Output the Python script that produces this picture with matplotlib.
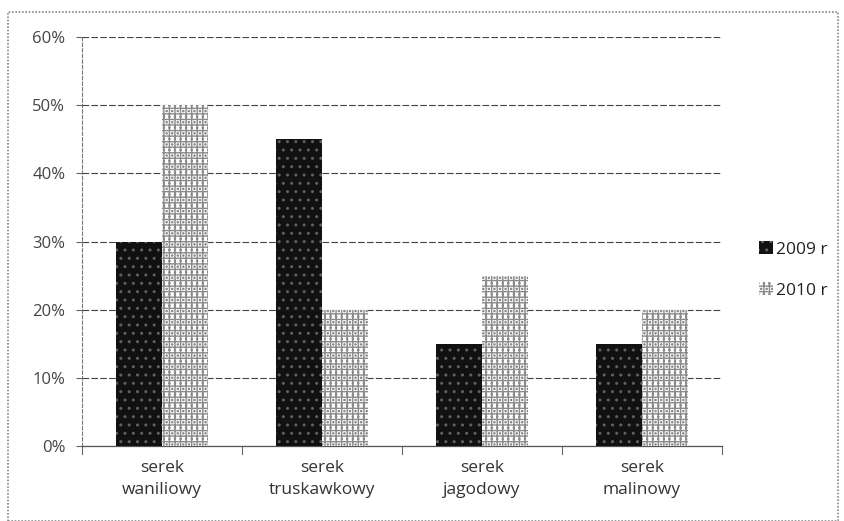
import matplotlib
matplotlib.use("Agg")
import matplotlib.pyplot as plt
from matplotlib.patches import Rectangle, Patch
import numpy as np

categories = ["serek\nwaniliowy", "serek\ntruskawkowy", "serek\njagodowy", "serek\nmalinowy"]
series_names = ["2009 r", "2010 r"]
values_2009 = [30, 45, 15, 15]
values_2010 = [50, 20, 25, 20]
yticks = [0, 10, 20, 30, 40, 50, 60]
ytick_labels = ["0%", "10%", "20%", "30%", "40%", "50%", "60%"]

plt.rcParams['font.family'] = ['Open Sans', 'DejaVu Sans']
plt.rcParams['hatch.linewidth'] = 1.0

fig = plt.figure(figsize=(8.45, 5.21), dpi=100)
ax = fig.add_axes([82/845, 1-446/521, (722-82)/845, (446-37)/521])

x = np.arange(len(categories))
w = 0.29
b1 = ax.bar(x - w/2, values_2009, width=w, color='#111111', edgecolor='#606060',
            hatch='..', linewidth=0, zorder=3)
b2 = ax.bar(x + w/2, values_2010, width=w, color='white', edgecolor='#8a8a8a',
            hatch='+++...', linewidth=0, zorder=3)

ax.set_xlim(-0.5, len(categories) - 0.5)
ax.set_ylim(0, 60)
ax.set_yticks(yticks)
ax.set_yticklabels(ytick_labels, fontsize=12, color='#444444')
ax.set_xticks(x)
ax.set_xticklabels(categories, fontsize=12.5, color='#333333', linespacing=1.5)
ax.tick_params(axis='x', length=0, pad=10)
ax.tick_params(axis='y', length=4, color='#666666', pad=8)
for b in np.arange(-0.5, len(categories), 1.0):
    ax.plot([b, b], [0, -1.2], color='#666666', lw=0.8, clip_on=False)

ax.grid(axis='y', color='#444444', linestyle=(0, (6, 2)), linewidth=0.8, zorder=0)
for s in ['top', 'right']:
    ax.spines[s].set_visible(False)
ax.spines['left'].set_color('#777777')
ax.spines['left'].set_linestyle((0, (3, 2)))
ax.spines['left'].set_linewidth(0.8)
ax.spines['bottom'].set_color('#555555')
ax.spines['bottom'].set_linewidth(0.9)

handles = [Patch(facecolor='#111111', edgecolor='#606060', hatch='..', linewidth=0),
           Patch(facecolor='white', edgecolor='#8a8a8a', hatch='+++...', linewidth=0)]
fig.legend(handles, series_names, loc='center left', bbox_to_anchor=(743/845, 1-270/521),
           frameon=False, fontsize=12.5, handlelength=0.8, handleheight=0.8,
           handletextpad=0.2, labelspacing=1.4, labelcolor='#222222')

fig.patches.append(Rectangle((8/845, 0.0), (838-8)/845, 1-12/521, transform=fig.transFigure,
                             fill=False, edgecolor='#888888', linestyle=(0, (1, 1)), linewidth=1.2))

fig.savefig("out.png", dpi=100)
